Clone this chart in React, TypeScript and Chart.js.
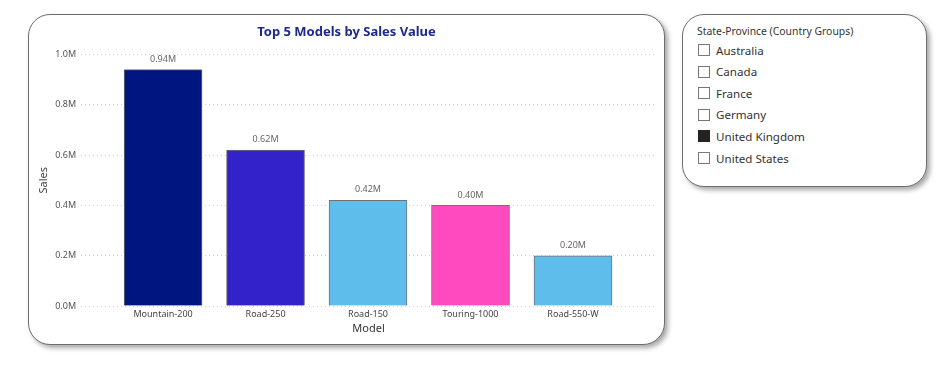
import React, { useEffect, useRef } from "react";
import { Chart, registerables } from "chart.js";

Chart.register(...registerables);

const models = ["Mountain-200", "Road-250", "Road-150", "Touring-1000", "Road-550-W"];
const salesValues = [940000, 620000, 420000, 400000, 200000];
const barColors = ["#00157F", "#3322CA", "#5EBDEA", "#FF4ABF", "#5EBDEA"];
const countries = ["Australia", "Canada", "France", "Germany", "United Kingdom", "United States"];
const selectedCountries = ["United Kingdom"];

const FONT = "'Noto Sans', 'Open Sans', sans-serif";

const dataLabelPlugin = {
  id: "dataLabels",
  afterDatasetsDraw(chart: any) {
    const ctx = chart.ctx;
    const meta = chart.getDatasetMeta(0);
    ctx.save();
    ctx.font = `9px ${FONT}`;
    ctx.fillStyle = "#666666";
    ctx.textAlign = "center";
    ctx.textBaseline = "bottom";
    meta.data.forEach((el: any, i: number) => {
      const v = salesValues[i];
      ctx.fillText((v / 1e6).toFixed(2) + "M", el.x, el.y - 6);
    });
    ctx.restore();
  },
};

function ChartCard() {
  const ref = useRef<HTMLCanvasElement>(null);
  useEffect(() => {
    if (!ref.current) return;
    const chart = new Chart(ref.current, {
      type: "bar",
      data: {
        datasets: [
          {
            data: salesValues.map((v, i) => ({ x: i, y: v })),
            backgroundColor: barColors,
            borderColor: "#707070",
            borderWidth: 1,
            barThickness: 78,
          },
        ],
      },
      plugins: [dataLabelPlugin],
      options: {
        responsive: false,
        animation: false,
        layout: { padding: { left: 8, right: 7, top: 4, bottom: 8 } },
        plugins: {
          legend: { display: false },
          tooltip: { enabled: false },
          title: {
            display: true,
            text: "Top 5 Models by Sales Value",
            color: "#1B2A8E",
            font: { family: FONT, size: 13, weight: "bold" },
            padding: { top: 5, bottom: 15 },
          },
        },
        scales: {
          x: {
            type: "linear",
            offset: false,
            min: -0.8,
            max: 4.81,
            grid: { display: false, drawTicks: false, offset: false },
            border: { display: false },
            afterBuildTicks: (scale: any) => {
              scale.ticks = models.map((_, i) => ({ value: i }));
            },
            ticks: {
              autoSkip: false,
              maxRotation: 0,
              padding: 3,
              color: "#444444",
              font: { family: FONT, size: 9 },
              callback: (v: any) => models[v as number] ?? "",
            },
            title: {
              display: true,
              text: "Model",
              color: "#333333",
              font: { family: FONT, size: 11 },
              padding: { top: -1, bottom: 0 },
            },
          },
          y: {
            min: 0,
            max: 1000000,
            grid: { color: "#d0d0d0", drawTicks: false, lineWidth: 1 },
            border: { display: false, dash: [1, 3] },
            ticks: {
              stepSize: 200000,
              padding: 5,
              color: "#555555",
              font: { family: FONT, size: 9 },
              callback: (v: any) => (Number(v) / 1e6).toFixed(1) + "M",
            },
            title: {
              display: true,
              text: "Sales",
              color: "#444444",
              font: { family: FONT, size: 11 },
              padding: { top: 0, bottom: 0 },
            },
          },
        },
      } as any,
    });
    return () => chart.destroy();
  }, []);
  return (
    <div
      style={{
        position: "absolute",
        left: 28,
        top: 14,
        width: 637,
        height: 331,
        boxSizing: "border-box",
        border: "1.5px solid #6e6e6e",
        borderRadius: 22,
        background: "#fff",
        boxShadow: "3px 3px 5px rgba(0,0,0,0.35)",
        overflow: "hidden",
      }}
    >
      <canvas ref={ref} width={634} height={328} style={{ display: "block" }} />
    </div>
  );
}

function Slicer() {
  return (
    <div
      style={{
        position: "absolute",
        left: 682,
        top: 14,
        width: 245,
        height: 173,
        boxSizing: "border-box",
        border: "1.5px solid #6e6e6e",
        borderRadius: 22,
        background: "#fff",
        boxShadow: "3px 3px 5px rgba(0,0,0,0.35)",
        fontFamily: FONT,
        color: "#333",
      }}
    >
      <div style={{ position: "absolute", left: 14, top: 9, fontSize: 10.4, color: "#333" }}>
        State-Province (Country Groups)
      </div>
      {countries.map((c, i) => {
        const sel = selectedCountries.includes(c);
        return (
          <div
            key={c}
            style={{ position: "absolute", left: 15, top: 27 + i * 21.6, height: 16, display: "flex", alignItems: "center" }}
          >
            <div
              style={{
                width: 12,
                height: 12,
                boxSizing: "border-box",
                border: sel ? "1px solid #222" : "1px solid #777",
                background: sel ? "#222" : "#fff",
                marginRight: 6,
              }}
            />
            <span style={{ fontSize: 11.6, color: "#333" }}>{c}</span>
          </div>
        );
      })}
    </div>
  );
}

export default function App() {
  return (
    <div style={{ position: "absolute", left: 0, top: 0, width: 940, height: 367, background: "#fff" }}>
      <ChartCard />
      <Slicer />
    </div>
  );
}
